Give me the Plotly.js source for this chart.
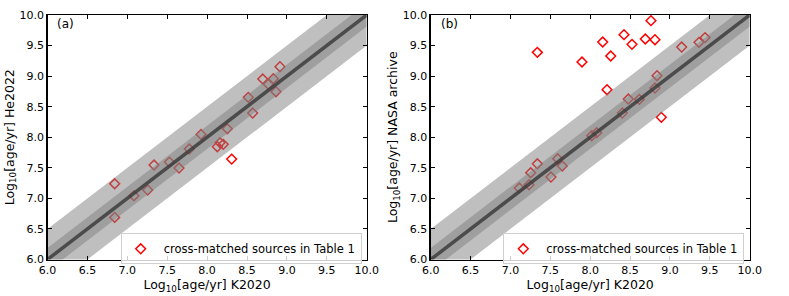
<!DOCTYPE html>
<html>
<head>
<meta charset="utf-8">
<script src="https://cdn.plot.ly/plotly-3.0.1.min.js"></script>
<style>html,body{margin:0;padding:0;background:#fff}#chart{width:789px;height:296px}</style>
</head>
<body>
<div id="chart"></div>
<script>
// Panel (a): K2020 vs He2022
const aK2020 = [8.913, 8.697, 8.830, 8.767, 8.863, 8.516, 8.571, 8.253, 8.128, 8.162, 8.203, 8.308, 7.924, 7.777, 7.527, 7.648, 7.335, 7.256, 7.084, 6.842, 6.842];
const aHe2022 = [9.154, 8.953, 8.958, 8.866, 8.745, 8.653, 8.396, 8.139, 7.845, 7.910, 7.884, 7.643, 8.047, 7.807, 7.594, 7.496, 7.545, 7.136, 7.043, 7.239, 6.689];
// Panel (b): K2020 vs NASA archive
const bK2020 = [7.337, 7.897, 8.157, 8.257, 8.424, 8.524, 8.691, 8.762, 8.812, 8.211, 9.147, 9.364, 9.440, 8.838, 8.812, 8.478, 8.616, 8.403, 8.892, 8.019, 8.081, 7.592, 7.650, 7.508, 7.337, 7.254, 7.233, 7.111];
const bNASA = [9.389, 9.231, 9.558, 9.329, 9.678, 9.520, 9.607, 9.907, 9.596, 8.778, 9.476, 9.553, 9.630, 9.007, 8.805, 8.625, 8.620, 8.396, 8.326, 8.025, 8.074, 7.648, 7.529, 7.349, 7.566, 7.419, 7.223, 7.169];
// one-to-one reference line and bands
const lineX = [6, 10];
const bandOuter = 0.5;
const bandInner = 0.19;
const tickVals = [6.0, 6.5, 7.0, 7.5, 8.0, 8.5, 9.0, 9.5, 10.0];
const tickText = ["6.0", "6.5", "7.0", "7.5", "8.0", "8.5", "9.0", "9.5", "10.0"];
const legendLabel = "cross-matched sources in Table 1";

function band(w, xa, ya) {
  return {
    x: [lineX[0], lineX[1], lineX[1], lineX[0], lineX[0]],
    y: [lineX[0] + w, lineX[1] + w, lineX[1] - w, lineX[0] - w, lineX[0] + w],
    xaxis: xa, yaxis: ya, mode: 'lines', fill: 'toself',
    fillcolor: 'rgba(128,128,128,0.5)', line: {width: 0}, hoverinfo: 'skip', showlegend: false
  };
}
function oneToOne(xa, ya) {
  return {x: lineX, y: lineX, xaxis: xa, yaxis: ya, mode: 'lines',
    line: {color: 'rgba(60,60,60,0.85)', width: 3.5}, hoverinfo: 'skip', showlegend: false};
}
function pts(x, y, xa, ya, lg) {
  return {x: x, y: y, xaxis: xa, yaxis: ya, mode: 'markers', name: legendLabel, legend: lg,
    marker: {symbol: 'diamond-open', size: 7.5, color: 'red', line: {color: 'red', width: 1.5}}};
}

const traces = [
  pts(aK2020, aHe2022, 'x', 'y', 'legend'),
  band(bandOuter, 'x', 'y'), band(bandInner, 'x', 'y'), oneToOne('x', 'y'),
  pts(bK2020, bNASA, 'x2', 'y2', 'legend2'),
  band(bandOuter, 'x2', 'y2'), band(bandInner, 'x2', 'y2'), oneToOne('x2', 'y2')
];

const fnt = {family: 'DejaVu Sans', size: 11, color: '#000'};
const tfnt = {family: 'DejaVu Sans', size: 12.5, color: '#000'};
function xax(dom, anchor) {
  return {domain: dom, anchor: anchor, range: [6, 10], tickvals: tickVals, ticktext: tickText,
    ticks: 'inside', ticklen: 4, tickwidth: 1, tickcolor: '#000', mirror: 'ticks',
    showline: true, linecolor: '#000', linewidth: 1.3, showgrid: false, zeroline: false,
    tickfont: fnt, title: {text: 'Log<sub>10</sub>[age/yr] K2020', font: tfnt, standoff: 0}};
}
function yax(dom, anchor, title) {
  return {domain: dom, anchor: anchor, range: [6, 10], tickvals: tickVals, ticktext: tickText,
    ticks: 'inside', ticklen: 4, tickwidth: 1, tickcolor: '#000', mirror: 'ticks',
    showline: true, linecolor: '#000', linewidth: 1.3, showgrid: false, zeroline: false,
    tickfont: fnt, title: {text: title, font: tfnt, standoff: 2}};
}
const yd = [1 - 259.5 / 296, 1 - 15 / 296];
const legendStyle = {xanchor: 'left', yanchor: 'top', bgcolor: 'rgba(255,255,255,0.8)',
  bordercolor: '#d0d0d0', borderwidth: 1, itemwidth: 36, indentation: -4,
  font: {family: 'DejaVu Sans', size: 11.5, color: '#000'}};

const layout = {
  width: 789, height: 296, margin: {l: 0, r: 0, t: 0, b: 0},
  paper_bgcolor: '#fff', plot_bgcolor: '#fff', font: {family: 'DejaVu Sans', color: '#000'},
  xaxis: xax([47.5 / 789, 366.7 / 789], 'y'),
  yaxis: yax(yd, 'x', 'Log<sub>10</sub>[age/yr] He2022'),
  xaxis2: xax([430.7 / 789, 749.7 / 789], 'y2'),
  yaxis2: yax(yd, 'x2', 'Log<sub>10</sub>[age/yr] NASA archive'),
  legend: Object.assign({x: 120.7 / 789, y: 1 - 233.3 / 296}, legendStyle),
  legend2: Object.assign({x: 503.3 / 789, y: 1 - 233.3 / 296}, legendStyle),
  annotations: [
    {text: '(a)', xref: 'paper', yref: 'paper', x: 55 / 789, y: 1 - 24 / 296, xanchor: 'left', yanchor: 'middle', showarrow: false, font: {family: 'DejaVu Sans', size: 12, color: '#000'}},
    {text: '(b)', xref: 'paper', yref: 'paper', x: 438.5 / 789, y: 1 - 24 / 296, xanchor: 'left', yanchor: 'middle', showarrow: false, font: {family: 'DejaVu Sans', size: 12, color: '#000'}}
  ],
  showlegend: true
};
Plotly.newPlot('chart', traces, layout, {staticPlot: true, displayModeBar: false});
</script>
</body>
</html>
